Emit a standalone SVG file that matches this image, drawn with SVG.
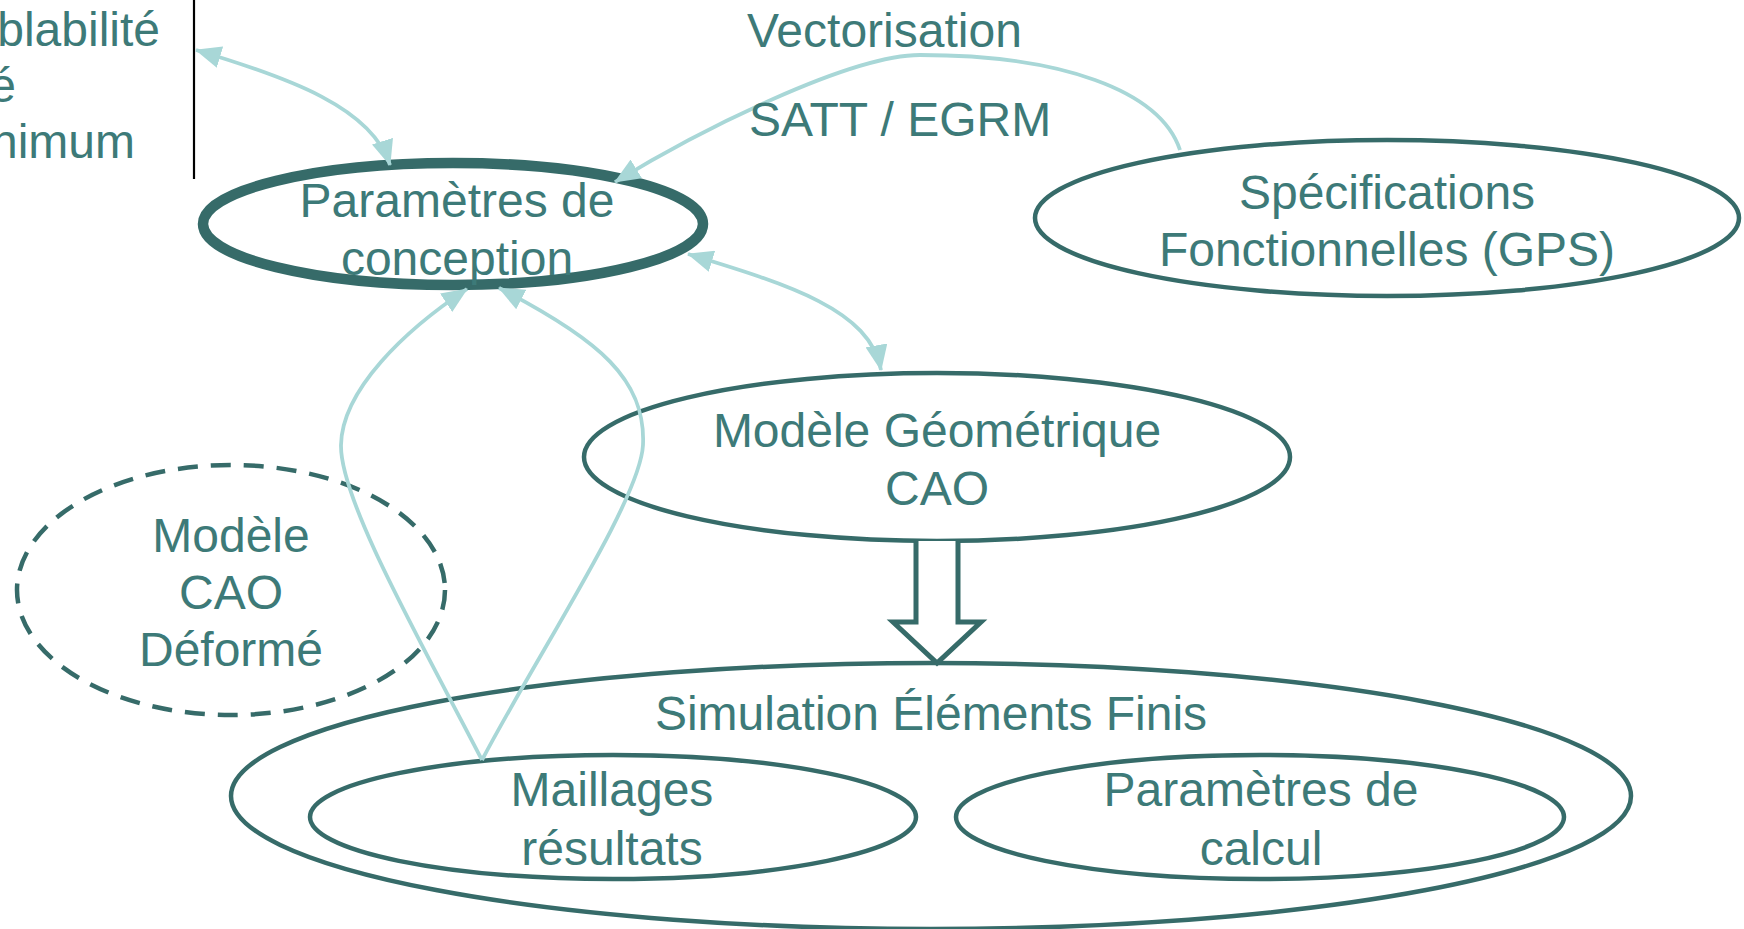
<svg xmlns="http://www.w3.org/2000/svg" width="1744" height="929" viewBox="0 0 1744 929">
  <defs>
    <style>
      .lbl { font-family: "Liberation Sans", Arial, sans-serif; font-size: 48px; fill: #3D7A78; }
      .mid { text-anchor: middle; }
      .end { text-anchor: end; }
      .node { fill: none; stroke: #366B69; stroke-width: 4.5; }
      .thick { stroke-width: 10.5; }
      .dashed { stroke-dasharray: 20 13; }
      .conn { fill: none; stroke: #A8D7D7; stroke-width: 3.8; }
    </style>
    <marker id="arrow" markerUnits="userSpaceOnUse" viewBox="0 0 26 22" markerWidth="26" markerHeight="22" refX="25" refY="11" orient="auto-start-reverse">
      <path d="M0,0 L26,11 L0,22 z" fill="#A8D7D7"/>
    </marker>
  </defs>
  <rect width="1744" height="929" fill="#FFFFFF"/>

  <g id="cut-label">
    <text class="lbl end" x="160" y="46">blabilité</text>
    <text class="lbl end" x="16" y="102">é</text>
    <text class="lbl end" x="135" y="158">nimum</text>
    <line x1="194" y1="0" x2="194" y2="179" stroke="#000000" stroke-width="2.2"/>
  </g>

  <g id="parametres-conception">
    <ellipse class="node thick" cx="453" cy="224" rx="250" ry="61"/>
    <text class="lbl mid" x="457" y="217">Paramètres de</text>
    <text class="lbl mid" x="457" y="275">conception</text>
  </g>

  <g id="specifications">
    <ellipse class="node" cx="1387" cy="218" rx="352" ry="78"/>
    <text class="lbl mid" x="1387" y="209">Spécifications</text>
    <text class="lbl mid" x="1387" y="266">Fonctionnelles (GPS)</text>
  </g>

  <g id="modele-geometrique">
    <ellipse class="node" cx="937" cy="457" rx="353" ry="84"/>
    <text class="lbl mid" x="937" y="447">Modèle Géométrique</text>
    <text class="lbl mid" x="937" y="505">CAO</text>
  </g>

  <g id="modele-deforme">
    <ellipse class="node dashed" cx="231" cy="590" rx="214" ry="125"/>
    <text class="lbl mid" x="231" y="552">Modèle</text>
    <text class="lbl mid" x="231" y="609">CAO</text>
    <text class="lbl mid" x="231" y="666">Déformé</text>
  </g>

  <g id="simulation">
    <ellipse class="node" cx="931" cy="796" rx="700" ry="133"/>
    <text class="lbl mid" x="931" y="730">Simulation Éléments Finis</text>
  </g>

  <g id="maillages">
    <ellipse class="node" cx="613" cy="817" rx="303" ry="62"/>
    <text class="lbl mid" x="612" y="806">Maillages</text>
    <text class="lbl mid" x="612" y="865">résultats</text>
  </g>

  <g id="parametres-calcul">
    <ellipse class="node" cx="1260" cy="817" rx="304" ry="62"/>
    <text class="lbl mid" x="1261" y="806">Paramètres de</text>
    <text class="lbl mid" x="1261" y="865">calcul</text>
  </g>

  <g id="block-arrow">
    <path d="M916,541 L916,622 L893,622 L937,663 L981,622 L958,622 L958,541" fill="#FFFFFF" stroke="#366B69" stroke-width="5" stroke-linejoin="miter"/>
  </g>

  <g id="connectors">
    <path class="conn" d="M196,50 C290,78 372,108 390,165" marker-start="url(#arrow)" marker-end="url(#arrow)"/>
    <path class="conn" d="M1180,150 C1160,90 1060,55 920,55 C850,55 700,130 615,182" marker-end="url(#arrow)"/>
    <path class="conn" d="M688,254 C790,285 870,310 881,370" marker-start="url(#arrow)" marker-end="url(#arrow)"/>
    <path class="conn" d="M482,760 C420,640 340,500 341,445 C342,390 405,330 467,289" marker-end="url(#arrow)"/>
    <path class="conn" d="M482,760 C540,650 640,500 643,445 C646,380 600,340 499,288" marker-end="url(#arrow)"/>
  </g>

  <g id="edge-labels">
    <text class="lbl" x="747" y="47">Vectorisation</text>
    <text class="lbl" x="749" y="136">SATT / EGRM</text>
  </g>
</svg>
